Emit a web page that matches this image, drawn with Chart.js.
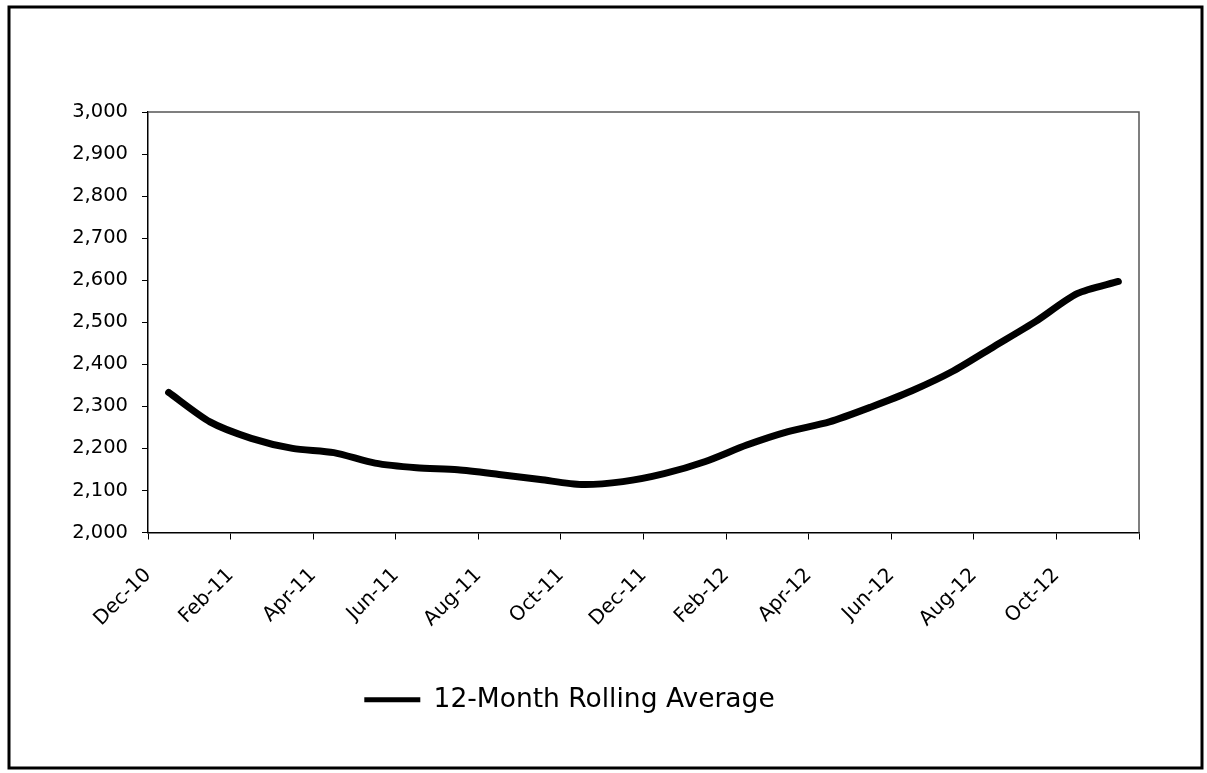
<!DOCTYPE html>
<html>
<head>
<meta charset="utf-8">
<script src="https://cdn.jsdelivr.net/npm/chart.js@4.4.0/dist/chart.umd.min.js"></script>
<style>
  html, body { margin: 0; padding: 0; background: #fff; }
  #wrap { width: 1207px; height: 773px; position: relative; }
</style>
</head>
<body>
<div id="wrap"><canvas id="rollingChart"></canvas></div>
<script>
// one label every two months along the bottom axis
const tick_labels = ["Dec-10", "Feb-11", "Apr-11", "Jun-11", "Aug-11", "Oct-11",
                     "Dec-11", "Feb-12", "Apr-12", "Jun-12", "Aug-12", "Oct-12", ""];

// monthly periods of the series
const months = ["Dec-10", "Jan-11", "Feb-11", "Mar-11", "Apr-11", "May-11", "Jun-11",
                "Jul-11", "Aug-11", "Sep-11", "Oct-11", "Nov-11", "Dec-11", "Jan-12",
                "Feb-12", "Mar-12", "Apr-12", "May-12", "Jun-12", "Jul-12", "Aug-12",
                "Sep-12", "Oct-12", "Nov-12"];

const rolling_average = [2333, 2263, 2224, 2200, 2190, 2165, 2154, 2149, 2138, 2126, 2114, 2121,
                         2140, 2169, 2208, 2240, 2263, 2298, 2337, 2384, 2443, 2502, 2568, 2597];

// each month sits in the middle of its slot on the axis
const points = months.map((m, i) => ({ x: i + 0.5, y: rolling_average[i] }));

Chart.defaults.font.family = "'DejaVu Sans', sans-serif";
Chart.defaults.color = '#000';

// white background, plot outline (top/right) and the outer frame
const framePlugin = {
    id: 'frame',
    beforeDraw(chart) {
        const ctx = chart.ctx;
        ctx.save();
        ctx.fillStyle = '#fff';
        ctx.fillRect(0, 0, chart.width, chart.height);
        ctx.restore();
    },
    afterDraw(chart) {
        const ctx = chart.ctx, a = chart.chartArea;
        ctx.save();
        ctx.strokeStyle = '#555';
        ctx.lineWidth = 1.5;
        ctx.beginPath();
        ctx.moveTo(a.left, a.top);
        ctx.lineTo(a.right, a.top);
        ctx.lineTo(a.right, a.bottom);
        ctx.stroke();
        ctx.strokeStyle = '#000';
        ctx.lineWidth = 3;
        ctx.strokeRect(9, 7, 1193, 761);
        ctx.restore();
    }
};

var context = document.getElementById("rollingChart").getContext('2d');
var rollingChart = new Chart(context, {
    type: 'line',
    data: {
        datasets: [{
            label: '12-Month Rolling Average',
            data: points,
            borderColor: '#000',
            borderWidth: 7,
            tension: 0.25,
            pointRadius: 0,
            pointHoverRadius: 0,
            pointBorderWidth: 5,
            pointBorderColor: '#000',
            borderCapStyle: 'round',
            borderJoinStyle: 'round',
            fill: false
        }]
    },
    options: {
        responsive: true,
        maintainAspectRatio: false,
        animation: false,
        layout: {
            padding: { left: 0, right: 68, top: 112, bottom: 50 }
        },
        plugins: {
            tooltip: { enabled: false },
            legend: {
                position: 'bottom',
                labels: {
                    usePointStyle: true,
                    pointStyle: 'line',
                    pointStyleWidth: 56,
                    padding: 10,
                    font: { size: 26.5 },
                    color: '#000'
                }
            }
        },
        scales: {
            x: {
                type: 'linear',
                min: 0,
                max: 24,
                afterFit(scale) { scale.height = 144; },
                afterBuildTicks(scale) {
                    scale.ticks = tick_labels.map((t, i) => ({ value: i * 2 }));
                },
                ticks: {
                    autoSkip: false,
                    minRotation: 45,
                    maxRotation: 45,
                    padding: 24,
                    font: { size: 20 },
                    callback: (value) => tick_labels[value / 2]
                },
                grid: {
                    drawOnChartArea: false,
                    drawTicks: true,
                    tickLength: 7,
                    color: '#000'
                },
                border: { display: true, color: '#000', width: 1.5 }
            },
            y: {
                min: 2000,
                max: 3000,
                afterFit(scale) { scale.width = 148; },
                ticks: {
                    stepSize: 100,
                    padding: 14,
                    font: { size: 19.5 },
                    callback: (value) => value.toLocaleString('en-US')
                },
                grid: {
                    drawOnChartArea: false,
                    drawTicks: true,
                    tickLength: 6,
                    color: '#000'
                },
                border: { display: true, color: '#000', width: 1.5 }
            }
        }
    },
    plugins: [framePlugin]
});
</script>
</body>
</html>
